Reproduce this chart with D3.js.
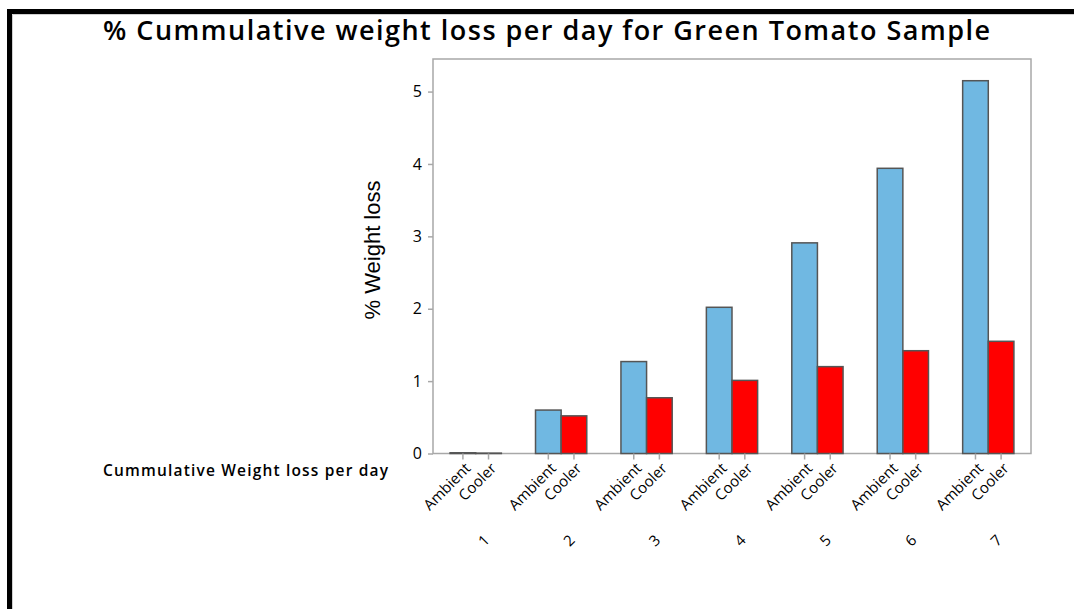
<!DOCTYPE html>
<html>
<head>
<meta charset="utf-8">
<script src="https://cdn.jsdelivr.net/npm/d3@7.9.0/dist/d3.min.js"></script>
<style>
  body { margin: 0; background: #fff; }
  svg { display: block; }
</style>
</head>
<body>
<svg id="chart" width="1074" height="609"></svg>
<script>
const days = ["1", "2", "3", "4", "5", "6", "7"];
const conditions = ["Ambient", "Cooler"];
const ambientLoss = [0.01, 0.60, 1.27, 2.02, 2.91, 3.94, 5.15];
const coolerLoss = [0.005, 0.52, 0.77, 1.01, 1.20, 1.42, 1.55];
const yTicks = [0, 1, 2, 3, 4, 5];

const fontFamily = "'Open Sans', 'DejaVu Sans', sans-serif";

const svg = d3.select("#chart");

const plot = { left: 433, top: 59, right: 1031, bottom: 453.5 };

const data = days.map((d, i) => ({ day: d, Ambient: ambientLoss[i], Cooler: coolerLoss[i] }));

const xScale = d3.scaleBand().domain(days).range([plot.left, plot.right]).paddingInner(0.4).paddingOuter(0.2);
const xInner = d3.scaleBand().domain(conditions).range([0, xScale.bandwidth()]);
const yScale = d3.scaleLinear().domain([0, 5.45]).range([plot.bottom, plot.top]);
const colors = { Ambient: "#70B8E2", Cooler: "#FF0000" };

// outer frame
svg.append("path")
  .attr("d", "M9.5,609 V11.5 H1074")
  .attr("fill", "none")
  .attr("stroke", "#000")
  .attr("stroke-width", 5);
svg.append("path")
  .attr("d", "M12.5,609 V14.5 H1074")
  .attr("fill", "none")
  .attr("stroke", "#d0d0d0")
  .attr("stroke-width", 1);

// plot box
svg.append("rect")
  .attr("x", plot.left)
  .attr("y", plot.top)
  .attr("width", plot.right - plot.left)
  .attr("height", plot.bottom - plot.top)
  .attr("fill", "none")
  .attr("stroke", "#a8a8a8")
  .attr("stroke-width", 1.5);

// bars
const groups = svg.append("g")
  .selectAll("g")
  .data(data)
  .join("g")
  .attr("transform", (d) => `translate(${xScale(d.day)},0)`);

groups.selectAll("rect")
  .data((d) => conditions.map((c) => ({ cond: c, value: d[c] })))
  .join("rect")
  .attr("x", (d) => xInner(d.cond))
  .attr("y", (d) => yScale(d.value))
  .attr("width", xInner.bandwidth())
  .attr("height", (d) => plot.bottom - yScale(d.value))
  .attr("fill", (d) => colors[d.cond])
  .attr("stroke", "#555")
  .attr("stroke-width", 1.5);

// y axis
const yAxis = d3.axisLeft(yScale).tickValues(yTicks).tickSize(5).tickPadding(6).tickFormat(d3.format("d"));
const yG = svg.append("g").attr("transform", `translate(${plot.left},0)`).call(yAxis);
yG.select(".domain").remove();
yG.selectAll("line").attr("stroke", "#a8a8a8").attr("stroke-width", 1.5);
yG.selectAll("text")
  .style("font-family", fontFamily)
  .style("font-size", "16px")
  .attr("fill", "#000");

// x ticks (per condition in each day)
const xTickData = [];
data.forEach((d) => conditions.forEach((c) => xTickData.push({ day: d.day, cond: c })));
const xPos = (t) => xScale(t.day) + xInner(t.cond) + xInner.bandwidth() / 2;

svg.append("g")
  .selectAll("line")
  .data(xTickData)
  .join("line")
  .attr("x1", xPos)
  .attr("x2", xPos)
  .attr("y1", plot.bottom)
  .attr("y2", plot.bottom + 6)
  .attr("stroke", "#a8a8a8")
  .attr("stroke-width", 1.5);

svg.append("g")
  .selectAll("text")
  .data(xTickData)
  .join("text")
  .attr("transform", (t) => `translate(${xPos(t) + 5},${plot.bottom + 12}) rotate(-45)`)
  .attr("text-anchor", "end")
  .attr("dy", "0.35em")
  .style("font-family", fontFamily)
  .style("font-size", "15px")
  .text((t) => t.cond);

// day labels
svg.append("g")
  .selectAll("text")
  .data(days)
  .join("text")
  .attr("transform", (d) => `translate(${xScale(d) + xScale.bandwidth() / 2 + 8},${plot.bottom + 87}) rotate(-45)`)
  .attr("text-anchor", "middle")
  .attr("dy", "0.35em")
  .style("font-family", fontFamily)
  .style("font-size", "15px")
  .text((d) => d);

// left row label
svg.append("text")
  .attr("x", 103)
  .attr("y", 476)
  .attr("textLength", 285)
  .attr("lengthAdjust", "spacing")
  .style("font-family", fontFamily)
  .style("font-size", "15.5px")
  .style("font-weight", "600")
  .text("Cummulative Weight loss per day");

// y axis title
svg.append("text")
  .attr("transform", "translate(380,250) rotate(-90)")
  .attr("text-anchor", "middle")
  .style("font-family", "'Liberation Sans', Arial, sans-serif")
  .style("font-size", "22px")
  .text("% Weight loss");

// title
svg.append("text")
  .attr("x", 103)
  .attr("y", 40)
  .attr("textLength", 887)
  .attr("lengthAdjust", "spacing")
  .style("font-family", fontFamily)
  .style("font-size", "27px")
  .style("font-weight", "600")
  .text("% Cummulative weight loss per day for Green Tomato Sample");
</script>
</body>
</html>
